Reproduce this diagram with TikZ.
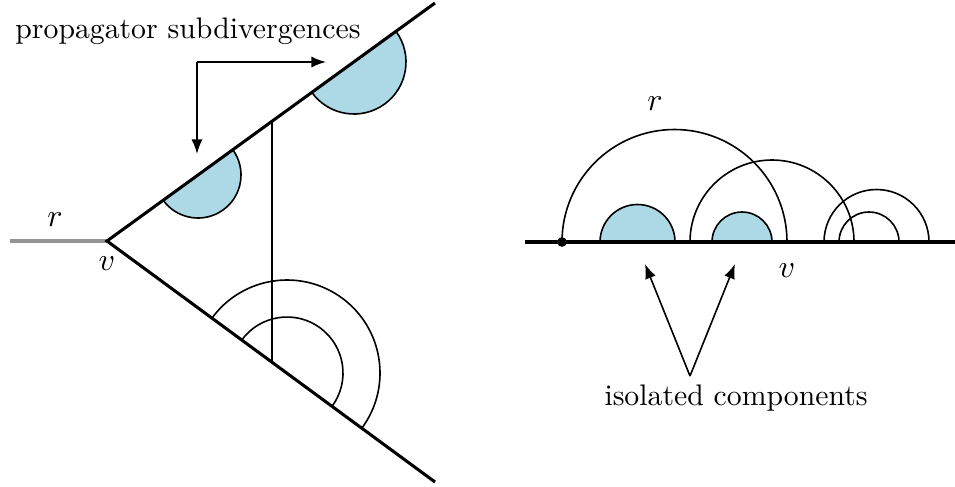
\documentclass[tikz,border=0pt]{standalone}
\usetikzlibrary{arrows.meta,calc}
\definecolor{subblue}{RGB}{173,216,230}
\tikzset{
  thickline/.style={line width=1.05pt},
  thinline/.style={line width=0.55pt},
  pointer/.style={thinline, -{Latex[length=5pt,width=3.8pt]}},
  lbl/.style={inner sep=0pt, font=\fontsize{11}{13}\selectfont},
  txt/.style={inner sep=0pt, font=\fontsize{10.2}{12}\selectfont}
}
\begin{document}
\begin{tikzpicture}[x=0.343pt,y=0.343pt]
\useasboundingbox (0,0) rectangle (955,486);
% ---------- left picture ----------
\coordinate (v) at (107,245);
\coordinate (rend) at (10,245);
\coordinate (U) at (435,483);
\coordinate (L) at (435,4);
\coordinate (vtop) at (272,365);
\coordinate (vbot) at (272,124);
\coordinate (c1) at (198,311);
\coordinate (c2) at (354,424);
\coordinate (c3) at (287,113);
% blue half disks
\fill[subblue] ($(c1)+(216:43)$) arc[start angle=216,end angle=396,radius=43] -- cycle;
\draw[thinline] ($(c1)+(216:43)$) arc[start angle=216,end angle=396,radius=43];
\fill[subblue] ($(c2)+(216:52)$) arc[start angle=216,end angle=396,radius=52] -- cycle;
\draw[thinline] ($(c2)+(216:52)$) arc[start angle=216,end angle=396,radius=52];
% concentric arcs
\draw[thinline] ($(c3)+(143.7:93)$) arc[start angle=143.7,end angle=-36.3,radius=93];
\draw[thinline] ($(c3)+(143.7:56)$) arc[start angle=143.7,end angle=-36.3,radius=56];
% vertical chord
\draw[thinline] (vtop) -- (vbot);
% main lines
\draw[line width=1.05pt, black!42] (rend) -- (v);
\draw[thickline] (U) -- (v) -- (L);
\node[lbl] (rl) at (55,266) {$r$};
\node[lbl] (vl) at (107,222) {$v$};
% arrow label
\node[txt] (prop) at (188,455) {propagator subdivergences};
\coordinate (corner) at (197,424);
\coordinate (tip1) at (197,332);
\coordinate (tip2) at (326,424);
\draw[pointer] (corner) -- (tip1);
\draw[pointer] (corner) -- (tip2);
% ---------- right picture ----------
\coordinate (b0) at (525,244);
\coordinate (b1) at (955,244);
\fill[subblue] (600,244) arc[start angle=180,end angle=0,radius=37.5] -- cycle;
\draw[thinline] (600,244) arc[start angle=180,end angle=0,radius=37.5];
\fill[subblue] (712,244) arc[start angle=180,end angle=0,radius=30] -- cycle;
\draw[thinline] (712,244) arc[start angle=180,end angle=0,radius=30];
\draw[thinline] (562,244) arc[start angle=180,end angle=0,radius=112.5];
\draw[thinline] (690,244) arc[start angle=180,end angle=0,radius=82];
\draw[thinline] (824,244) arc[start angle=180,end angle=0,radius=52.5];
\draw[thinline] (839,244) arc[start angle=180,end angle=0,radius=30];
\draw[thickline] (b0) -- (b1);
\node[circle, fill=black, inner sep=0pt, minimum size=3.3pt] (dot) at (562,244) {};
\node[lbl] (rr) at (655,382) {$r$};
\node[lbl] (vr) at (787,215) {$v$};
\node[txt] (iso) at (736,88) {isolated components};
\coordinate (src) at (690,110);
\coordinate (t1) at (645,222);
\coordinate (t2) at (735,222);
\draw[pointer] (src) -- (t1);
\draw[pointer] (src) -- (t2);
\end{tikzpicture}
\end{document}
